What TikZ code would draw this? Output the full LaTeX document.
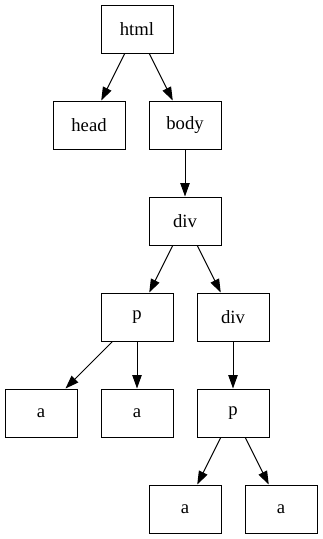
\documentclass[tikz,border=0pt]{standalone}
\usepackage{fontspec}
\setmainfont{Liberation Serif}
\usetikzlibrary{arrows.meta}
\begin{document}
\begin{tikzpicture}[x=0.75pt,y=-0.75pt,
  box/.style={draw,line width=0.75pt,minimum width=54pt,minimum height=36pt,inner sep=0pt,font=\fontsize{14}{16}\selectfont},
  edge/.style={line width=0.75pt,-{Triangle[length=10pt,width=7pt]}}]
\useasboundingbox (0,0) rectangle (323,539);
\node[box] (html) at (137,29) {html};
\node[box] (head) at (89,125) {head};
\node[box] (body) at (185,125) {body};
\node[box] (div) at (185,221) {div};
\node[box] (p) at (137,317) {p};
\node[box] (div2) at (233,317) {div};
\node[box] (a1) at (41,413) {a};
\node[box] (a2) at (137,413) {a};
\node[box] (p2) at (233,413) {p};
\node[box] (a3) at (185,509) {a};
\node[box] (a4) at (281,509) {a};
\draw[edge] (html) -- (head);
\draw[edge] (html) -- (body);
\draw[edge] (body) -- (div);
\draw[edge] (div) -- (p);
\draw[edge] (div) -- (div2);
\draw[edge] (p) -- (a1);
\draw[edge] (p) -- (a2);
\draw[edge] (div2) -- (p2);
\draw[edge] (p2) -- (a3);
\draw[edge] (p2) -- (a4);
\end{tikzpicture}
\end{document}
